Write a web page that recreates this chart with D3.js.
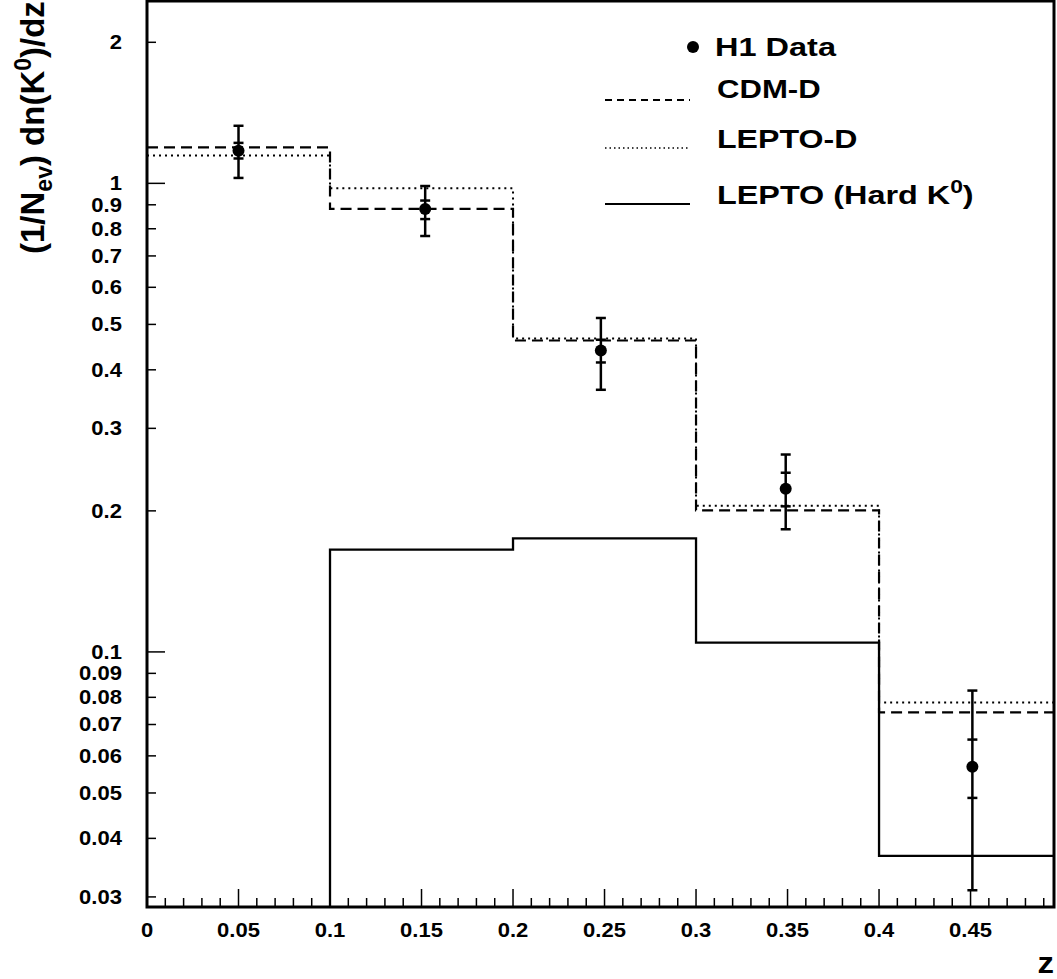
<!DOCTYPE html>
<html>
<head>
<meta charset="utf-8">
<script src="https://cdn.jsdelivr.net/npm/d3@7"></script>
<style>
  html, body { margin: 0; padding: 0; background: #fff; }
  svg { display: block; }
  text { font-family: "Liberation Sans", Arial, sans-serif; font-weight: bold; fill: #000; }
</style>
</head>
<body>
<svg id="chart" width="1057" height="979"></svg>
<script>
// Bin edges of the histograms (z)
const binEdges = [0, 0.1, 0.2, 0.3, 0.4, 0.5];

// Model predictions, one value per bin
const cdmD = [1.193, 0.882, 0.462, 0.2005, 0.0743];
const leptoD = [1.146, 0.976, 0.4665, 0.205, 0.078];
const leptoHard = [0.02, 0.1653, 0.1747, 0.1047, 0.0367];

// H1 measurement
const dataZ = [0.05, 0.152, 0.248, 0.349, 0.451];
const dataY = [1.174, 0.882, 0.440, 0.223, 0.0569];
const statLo = [1.13, 0.839, 0.4147, 0.2045, 0.0488];
const statHi = [1.22, 0.919, 0.4637, 0.2412, 0.0650];
const totLo = [1.027, 0.772, 0.3626, 0.1827, 0.031];
const totHi = [1.327, 0.987, 0.516, 0.2638, 0.0827];

// Axis ticks
const xTickLabels = ["0", "0.05", "0.1", "0.15", "0.2", "0.25", "0.3", "0.35", "0.4", "0.45"];
const yTickValues = [0.03, 0.04, 0.05, 0.06, 0.07, 0.08, 0.09, 0.1, 0.2, 0.3, 0.4, 0.5, 0.6, 0.7, 0.8, 0.9, 1, 2];
const yTickLabels = ["0.03", "0.04", "0.05", "0.06", "0.07", "0.08", "0.09", "0.1", "0.2", "0.3", "0.4", "0.5", "0.6", "0.7", "0.8", "0.9", "1", "2"];

// Legend entries
const legendLabels = ["H1 Data", "CDM-D", "LEPTO-D", "LEPTO (Hard K"];

const svg = d3.select("#chart");
const L = 147, R = 1054, T = 1, B = 907;

const x = d3.scaleLinear().domain([0, 0.4956]).range([L, R]);
const y = d3.scaleLog().domain([0.02855, 2.45]).range([B, T]);

svg.append("defs").append("clipPath").attr("id", "plotClip")
  .append("rect").attr("x", L).attr("y", T).attr("width", R - L).attr("height", B - T);

// text helper: horizontally stretched bold text
function label(g, px, py, str, size, sx, anchor) {
  return g.append("text")
    .attr("transform", `translate(${px},${py}) scale(${sx},1)`)
    .attr("text-anchor", anchor)
    .style("font-size", size + "px")
    .text(str);
}

// ---- ticks ----
const ticks = svg.append("g").attr("stroke", "#000").attr("stroke-width", 1.5);
d3.range(0, 50).forEach(i => {
  const v = i / 100;
  if (v > 0.4956) return;
  const len = (i % 5 === 0) ? 18 : 9;
  ticks.append("line").attr("x1", x(v)).attr("x2", x(v)).attr("y1", B).attr("y2", B - len);
});
yTickValues.forEach(v => {
  const major = (v === 0.1 || v === 1);
  ticks.append("line").attr("x1", L).attr("x2", L + (major ? 18 : 9))
    .attr("y1", y(v)).attr("y2", y(v));
});

// ---- tick labels ----
const labels = svg.append("g");
xTickLabels.forEach(s => {
  label(labels, x(+s), 937, s, 19.5, 1.13, "middle");
});
yTickValues.forEach((v, i) => {
  label(labels, 122, y(v) + 7, yTickLabels[i], 19.5, 1.13, "end");
});

// ---- histograms ----
const plot = svg.append("g").attr("clip-path", "url(#plotClip)");
const step = d3.line().x(d => x(d[0])).y(d => y(d[1])).curve(d3.curveStepAfter);
function histPoints(vals) {
  const pts = vals.map((v, i) => [binEdges[i], v]);
  pts.push([binEdges[vals.length], vals[vals.length - 1]]);
  return pts;
}
plot.append("path").datum(histPoints(leptoHard)).attr("d", step)
  .attr("fill", "none").attr("stroke", "#000").attr("stroke-width", 2.3);
plot.append("path").datum(histPoints(leptoD)).attr("d", step)
  .attr("fill", "none").attr("stroke", "#000").attr("stroke-width", 2)
  .attr("stroke-dasharray", "2,4");
plot.append("path").datum(histPoints(cdmD)).attr("d", step)
  .attr("fill", "none").attr("stroke", "#000").attr("stroke-width", 2.2)
  .attr("stroke-dasharray", "11,6");

// ---- data points with errors ----
const pts = plot.append("g").attr("stroke", "#000").attr("stroke-width", 2.5);
dataZ.forEach((z, i) => {
  const cx = x(z);
  pts.append("line").attr("x1", cx).attr("x2", cx).attr("y1", y(totLo[i])).attr("y2", y(totHi[i]));
  [totLo[i], totHi[i], statLo[i], statHi[i]].forEach(v => {
    pts.append("line").attr("x1", cx - 5).attr("x2", cx + 5).attr("y1", y(v)).attr("y2", y(v));
  });
  pts.append("circle").attr("cx", cx).attr("cy", y(dataY[i])).attr("r", 6)
    .attr("fill", "#000").attr("stroke", "none");
});

// ---- frame ----
svg.append("rect").attr("x", L).attr("y", T).attr("width", R - L).attr("height", B - T)
  .attr("fill", "none").attr("stroke", "#000").attr("stroke-width", 3);

// ---- axis titles ----
label(svg, 1054, 973, "z", 30, 1.1, "end");

const yt = svg.append("text")
  .attr("transform", "translate(44,254) rotate(-90)")
  .attr("text-anchor", "start")
  .style("font-size", "33px");
yt.append("tspan").text("(1/N");
yt.append("tspan").attr("dy", 8).style("font-size", "23px").text("ev");
yt.append("tspan").attr("dy", -8).text(") dn(K");
yt.append("tspan").attr("dy", -13).style("font-size", "23px").text("0");
yt.append("tspan").attr("dy", 13).text(")/dz");

// ---- legend ----
const leg = svg.append("g");
leg.append("circle").attr("cx", 693).attr("cy", 47).attr("r", 6).attr("fill", "#000");
leg.append("line").attr("x1", 605).attr("x2", 690).attr("y1", 100).attr("y2", 100)
  .attr("stroke", "#000").attr("stroke-width", 1.8).attr("stroke-dasharray", "7,5");
leg.append("line").attr("x1", 605).attr("x2", 690).attr("y1", 148).attr("y2", 148)
  .attr("stroke", "#000").attr("stroke-width", 1.6).attr("stroke-dasharray", "1.5,3");
leg.append("line").attr("x1", 605).attr("x2", 690).attr("y1", 204).attr("y2", 204)
  .attr("stroke", "#000").attr("stroke-width", 2);

label(leg, 715, 56, legendLabels[0], 25, 1.3, "start");
label(leg, 717, 98, legendLabels[1], 25.5, 1.22, "start");
label(leg, 717, 148, legendLabels[2], 25.5, 1.26, "start");
const hard = label(leg, 717, 204, legendLabels[3], 25.5, 1.27, "start");
hard.append("tspan").attr("dy", -11).style("font-size", "18px").text("0");
hard.append("tspan").attr("dy", 11).text(")");
</script>
</body>
</html>
